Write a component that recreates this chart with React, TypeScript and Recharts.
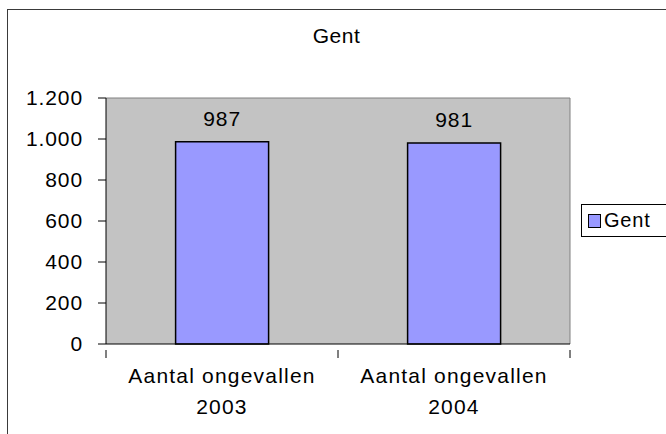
import {
  BarChart,
  Bar,
  XAxis,
  YAxis,
  CartesianGrid,
  LabelList,
} from "recharts";

const categories = ["Aantal ongevallen 2003", "Aantal ongevallen 2004"];
const gentValues = [987, 981];
const yTicks = [0, 200, 400, 600, 800, 1000, 1200];
const seriesName = "Gent";
const title = "Gent";

const data = categories.map((name, i) => ({ name, gent: gentValues[i] }));

const FONT = "'Liberation Sans', Arial, sans-serif";

// thousands separator with a dot, as in the Dutch original
const fmt = (v: number) => String(v).replace(/\B(?=(\d{3})+(?!\d))/g, ".");

const CategoryTick = (props: any) => {
  const { x, y, payload, index, visibleTicksCount } = props;
  const half = 116;
  const label: string = payload.value;
  const cut = label.lastIndexOf(" ");
  const lines = [label.slice(0, cut), label.slice(cut + 1)];
  const axisY = y - 14;
  return (
    <g>
      <line x1={x - half} x2={x - half} y1={axisY} y2={axisY + 8} stroke="#000" />
      {index === visibleTicksCount - 1 && (
        <line x1={x + half} x2={x + half} y1={axisY} y2={axisY + 8} stroke="#000" />
      )}
      <text
        x={x}
        y={y}
        textAnchor="middle"
        fontFamily={FONT}
        fontSize={21}
        letterSpacing={1.2}
        fill="#000"
      >
        {lines.map((l, i) => (
          <tspan key={i} x={x} dy={i === 0 ? 19 : 31}>
            {l}
          </tspan>
        ))}
      </text>
    </g>
  );
};

export default function App() {
  return (
    <div
      style={{
        position: "fixed",
        left: 0,
        top: 0,
        width: 666,
        height: 434,
        background: "#fff",
        overflow: "hidden",
      }}
    >
      <div
        style={{
          position: "absolute",
          left: 7,
          top: 9,
          width: 700,
          height: 500,
          border: "1px solid #3a3a3a",
        }}
      />
      <div
        style={{
          position: "absolute",
          left: 0,
          width: 673,
          top: 24,
          textAlign: "center",
          fontFamily: FONT,
          fontSize: 21,
          letterSpacing: 0.5,
          color: "#000",
        }}
      >
        {title}
      </div>
      <BarChart
        width={666}
        height={434}
        data={data}
        margin={{ top: 98, right: 96, left: 0, bottom: 0 }}
        barCategoryGap="30%"
        style={{ position: "absolute", left: 0, top: 0 }}
      >
        <CartesianGrid
          fill="#c3c3c3"
          fillOpacity={1}
          stroke="#808080"
          horizontalPoints={[98]}
          verticalPoints={[570]}
        />
        <XAxis
          dataKey="name"
          height={90}
          axisLine={{ stroke: "#000" }}
          tickLine={false}
          tickMargin={14}
          tick={<CategoryTick />}
          interval={0}
        />
        <YAxis
          width={106}
          domain={[0, 1200]}
          ticks={yTicks}
          interval={0}
          axisLine={{ stroke: "#000" }}
          tickLine={{ stroke: "#000" }}
          tickSize={8}
          tickMargin={15}
          tickFormatter={fmt}
          tick={{ fontFamily: FONT, fontSize: 21, fill: "#000", letterSpacing: 0.9 }}
        />
        <Bar
          dataKey="gent"
          name={seriesName}
          fill="#9999ff"
          stroke="#000"
          strokeWidth={1.5}
          isAnimationActive={false}
        >
          <LabelList
            dataKey="gent"
            position="top"
            offset={16}
            style={{ fontFamily: FONT, fontSize: 21, fill: "#000", letterSpacing: 0.9 }}
          />
        </Bar>
      </BarChart>
      <div
        style={{
          position: "absolute",
          left: 581,
          top: 204,
          width: 100,
          height: 33,
          border: "1px solid #000",
          display: "flex",
          alignItems: "center",
          boxSizing: "border-box",
          background: "#fff",
        }}
      >
        <span
          style={{
            display: "inline-block",
            width: 11,
            height: 12,
            background: "#9999ff",
            border: "1px solid #000",
            marginLeft: 6,
            marginRight: 3,
          }}
        />
        <span style={{ fontFamily: FONT, fontSize: 20, letterSpacing: 0.8, color: "#000" }}>
          {seriesName}
        </span>
      </div>
    </div>
  );
}
